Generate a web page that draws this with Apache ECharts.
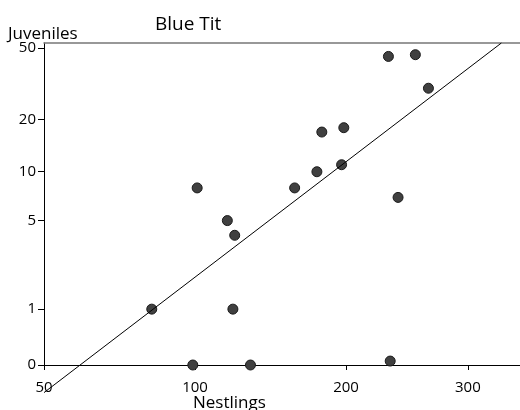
<!DOCTYPE html>
<html>
<head>
<meta charset="utf-8">
<script src="https://cdn.jsdelivr.net/npm/echarts@6/dist/echarts.min.js"></script>
<style>
  html, body { margin: 0; padding: 0; background: #fff; }
  #chart { width: 520px; height: 410px; }
</style>
</head>
<body>
<div id="chart"></div>
<script>
// Blue Tit: nestlings (log x) vs juveniles (log(y+1))
const nestlings = [82, 99, 129, 119, 245, 101, 116, 120, 158, 175, 196, 179, 198, 243, 275, 292, 254];
const juveniles = [1, 0, 0, 1, 0.05, 8, 5, 4, 8, 10, 11, 17, 18, 45, 46, 30, 7];

// fitted line end points
const fitX = [50, 408];
const fitY = [-0.29, 53.3];

// tick labels and where the reference puts them
const xTickLabels = ["50", "100", "200", "300"];
const xTickAt = [50, 100, 200, 350];
const yTickLabels = ["0", "1", "5", "10", "20", "50"];
const yTickAt = [0, 1, 5, 10, 20, 50];

const tx = v => Math.log10(v);
const ty = v => Math.log10(v + 1);

const xTicks = xTickAt.map(tx);
const yTicks = yTickAt.map(ty);

function labelFor(ticks, labels) {
  return function (v) {
    let best = 0;
    for (let i = 1; i < ticks.length; i++) {
      if (Math.abs(ticks[i] - v) < Math.abs(ticks[best] - v)) best = i;
    }
    return labels[best];
  };
}

const font = "Open Sans";
const chart = echarts.init(document.getElementById("chart"));

chart.setOption({
  animation: false,
  textStyle: { fontFamily: font },
  title: [
    { text: "Blue Tit", left: 155, top: 15, padding: 0, textStyle: { fontFamily: font, fontSize: 19, fontWeight: "normal", color: "#000" } },
    { text: "Juveniles", left: 8, top: 26, padding: 0, textStyle: { fontFamily: font, fontSize: 17, fontWeight: "normal", color: "#000" } },
    { text: "Nestlings", left: 193, top: 395, padding: 0, textStyle: { fontFamily: font, fontSize: 17, fontWeight: "normal", color: "#000" } }
  ],
  grid: { left: 44, right: 0, top: 43, bottom: 45 },
  xAxis: [
    {
      type: "value",
      min: tx(50),
      max: tx(50) + 476 / 501.6,
      axisLine: { lineStyle: { color: "#000", width: 1 } },
      axisTick: { show: true, length: 5, customValues: xTicks, lineStyle: { color: "#000" } },
      axisLabel: {
        customValues: xTicks,
        formatter: labelFor(xTicks, xTickLabels),
        margin: 15,
        fontSize: 15,
        color: "#000",
        fontFamily: font
      },
      splitLine: { show: false }
    },
    {
      type: "value",
      position: "top",
      min: tx(50),
      max: tx(50) + 476 / 501.6,
      axisLine: { show: true, lineStyle: { color: "#777", width: 1.5 } },
      axisTick: { show: false },
      axisLabel: { show: false },
      splitLine: { show: false }
    }
  ],
  yAxis: {
    type: "value",
    min: 0,
    max: 321 / 185,
    axisLine: { show: true, lineStyle: { color: "#000", width: 1 } },
    axisTick: { show: true, length: 6, customValues: yTicks, lineStyle: { color: "#000" } },
    axisLabel: {
      customValues: yTicks,
      formatter: labelFor(yTicks, yTickLabels),
      margin: 8,
      fontSize: 15,
      color: "#000",
      fontFamily: font
    },
    splitLine: { show: false }
  },
  series: [
    {
      type: "scatter",
      data: nestlings.map((n, i) => [tx(n), ty(juveniles[i])]),
      symbolSize: 10,
      itemStyle: { color: "#404040", borderColor: "#1a1a1a", borderWidth: 1, opacity: 1 },
      z: 2
    },
    {
      type: "line",
      data: fitX.map((n, i) => [tx(n), ty(fitY[i])]),
      showSymbol: false,
      clip: false,
      lineStyle: { color: "#000", width: 1 },
      z: 3
    }
  ]
});
</script>
</body>
</html>
